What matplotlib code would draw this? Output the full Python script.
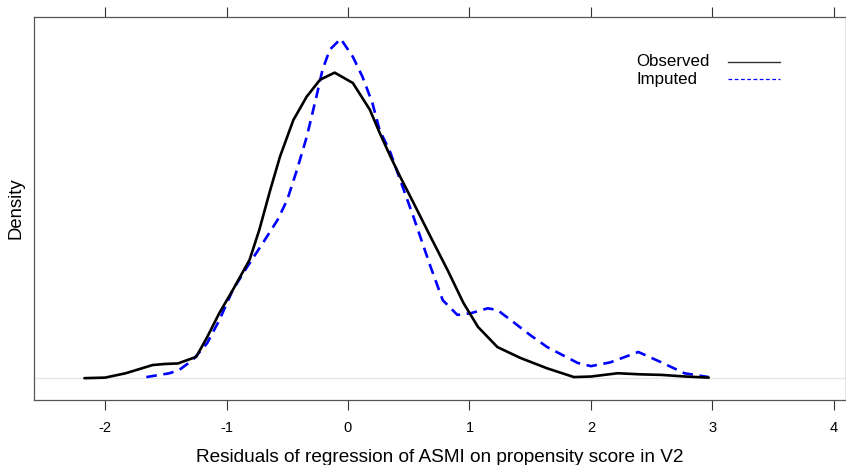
import numpy as np
import matplotlib
matplotlib.use("Agg")
import matplotlib.pyplot as plt
from matplotlib.lines import Line2D

plt.rcParams['font.family'] = ['Liberation Sans', 'DejaVu Sans']

# residuals (x) and kernel density (y)
obs_x = [-2.17, -2.0, -1.83, -1.61, -1.51, -1.40, -1.25, -1.16, -1.06, -0.95, -0.81,
         -0.73, -0.64, -0.56, -0.45, -0.34, -0.23, -0.11, 0.04, 0.18, 0.26, 0.35, 0.43,
         0.54, 0.68, 0.82, 0.95, 1.07, 1.23, 1.42, 1.64, 1.86, 2.0, 2.22, 2.41, 2.58,
         2.78, 2.97]
obs_y = [0.0, 0.001, 0.009, 0.024, 0.026, 0.027, 0.039, 0.075, 0.119, 0.161, 0.217,
         0.272, 0.345, 0.406, 0.473, 0.516, 0.547, 0.560, 0.541, 0.492, 0.450, 0.406,
         0.369, 0.321, 0.259, 0.198, 0.138, 0.094, 0.057, 0.037, 0.018, 0.002, 0.003,
         0.009, 0.007, 0.006, 0.003, 0.001]

imp_x = [-1.66, -1.47, -1.39, -1.28, -1.16, -1.06, -0.95, -0.83, -0.70, -0.58, -0.50,
         -0.42, -0.34, -0.26, -0.21, -0.15, -0.06, 0.04, 0.12, 0.20, 0.26, 0.35, 0.43,
         0.54, 0.68, 0.78, 0.90, 1.01, 1.15, 1.23, 1.36, 1.50, 1.64, 1.89, 2.0, 2.16,
         2.39, 2.58, 2.77, 2.97]
imp_y = [0.002, 0.009, 0.015, 0.033, 0.064, 0.106, 0.161, 0.204, 0.248, 0.290, 0.327,
         0.382, 0.442, 0.516, 0.565, 0.602, 0.622, 0.589, 0.552, 0.505, 0.455, 0.413,
         0.363, 0.295, 0.204, 0.143, 0.116, 0.119, 0.128, 0.125, 0.103, 0.079, 0.057,
         0.028, 0.022, 0.029, 0.048, 0.029, 0.009, 0.002]

xticks = [-2, -1, 0, 1, 2, 3, 4]
legend_labels = ['Observed', 'Imputed']

fig = plt.figure(figsize=(8.46, 4.65), dpi=100)
ax = fig.add_axes([0.0402, 0.1398, 0.9598, 0.8237])

ax.axhline(0, color='#e6e6e6', lw=1, zorder=1)
ax.plot(obs_x, obs_y, color='black', lw=1.9, zorder=3,
        solid_joinstyle='round', solid_capstyle='round')
ax.plot(imp_x, imp_y, color='#0000ff', lw=1.9, dashes=(4, 2.5), zorder=2,
        dash_joinstyle='round')

ax.set_xlim(-2.585, 4.1)
ax.set_ylim(-0.040, 0.662)

ax.set_xticks(xticks)
ax.set_xticklabels([str(t) for t in xticks], fontsize=10.5)
ax.tick_params(axis='x', which='both', top=True, bottom=True, direction='out',
               length=7, width=0.8, color='#333333', pad=8)
ax.set_yticks([])
for s in ax.spines.values():
    s.set_color('#555555')
    s.set_linewidth(0.9)

ax.set_xlabel('Residuals of regression of ASMI on propensity score in V2', fontsize=13.7, labelpad=10)
ax.set_ylabel('Density', fontsize=13.3, labelpad=7)

# key, top right: text left-aligned, line sample to the right
key_styles = [dict(color='#333333', lw=1.0),
              dict(color='#0000ff', lw=0.9, dashes=(3, 2))]
for i, (lab, st) in enumerate(zip(legend_labels, key_styles)):
    yk = 1 - (62 + 17.5 * i) / 465
    fig.text(636 / 846, yk, lab, fontsize=12.2, ha='left', va='center')
    fig.add_artist(Line2D([728 / 846, 780 / 846], [yk, yk], transform=fig.transFigure, **st))

fig.savefig('out.png', dpi=100)
